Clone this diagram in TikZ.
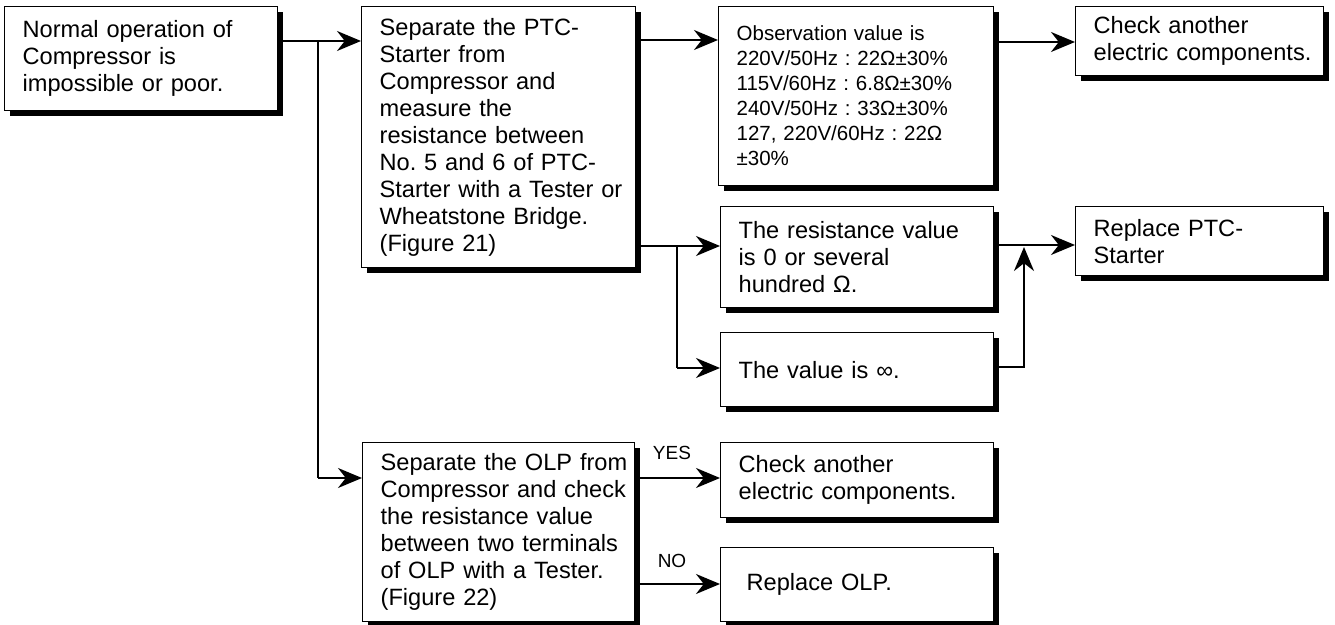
\documentclass[tikz,border=0pt]{standalone}
\usepackage{fontspec}
\setmainfont{Liberation Sans}
\usetikzlibrary{arrows.meta, shadows}

\begin{document}
\begin{tikzpicture}[x=0.5pt, y=-0.5pt,
  box/.style={draw, line width=0.65pt, fill=white, anchor=north west, align=left,
    inner xsep=9pt, inner ysep=0pt, font=\fontsize{11.8pt}{13.5pt}\selectfont\frenchspacing,
    execute at begin node={\rightskip=0pt plus 1fil minus 150pt\hyphenpenalty=10000},
    drop shadow={shadow xshift=2.5pt, shadow yshift=-2.5pt, fill=black, opacity=1}},
  small/.style={font=\fontsize{10.25pt}{12.5pt}\selectfont\frenchspacing},
  flow/.style={line width=1pt, -{Stealth[length=12pt, width=10pt]}},
  link/.style={line width=1pt},
  lbl/.style={font=\fontsize{9.5pt}{11pt}\selectfont, inner sep=0pt}]
\useasboundingbox (0,0) rectangle (1335,625);
% boxes
\node[box, text width=118.5pt, minimum height=52pt] (start) at (4,6)
  {Normal operation of\\Compressor is\\impossible or poor.};
\node[box, text width=119pt, minimum height=130.5pt] (ptc) at (361,6)
  {Separate the PTC-\\Starter from\\Compressor and\\measure the\\resistance between\\No. 5 and 6 of PTC-\\Starter with a Tester or\\Wheatstone Bridge.\\(Figure 21)};
\node[box, small, text width=119.5pt, minimum height=89.5pt] (obs) at (718,6)
  {Observation value is\\220V/50Hz : 22Ω±30\%\\115V/60Hz : 6.8Ω±30\%\\240V/50Hz : 33Ω±30\%\\127, 220V/60Hz : 22Ω\\±30\%};
\node[box, text width=106pt, minimum height=34.5pt] (chk1) at (1075,6)
  {Check another\\electric components.};
\node[box, text width=118.5pt, minimum height=50.5pt] (low) at (720,206)
  {The resistance value\\is 0 or several\\hundred Ω.};
\node[box, text width=118.5pt, minimum height=37pt] (inf) at (720,332)
  {The value is ∞.};
\node[box, text width=106pt, minimum height=34.5pt] (rep) at (1075,206)
  {Replace PTC-\\Starter};
\node[box, text width=118pt, minimum height=89.5pt] (olp) at (362,442)
  {Separate the OLP from\\Compressor and check\\the resistance value\\between two terminals\\of OLP with a Tester.\\(Figure 22)};
\node[box, text width=118.5pt, minimum height=37.5pt] (chk2) at (720,442)
  {Check another\\electric components.};
\node[box, text width=118.5pt, minimum height=37pt] (repolp) at (720,547)
  {\hspace*{4pt}Replace OLP.};
% branch points
\coordinate (a1) at (318,41);
\coordinate (a2) at (318,478);
\coordinate (b1) at (677,246);
\coordinate (b2) at (677,368);
\coordinate (c1) at (1024,247);
\coordinate (c2) at (1024,367);
% connectors
\draw[flow] (start.east |- a1) -- (ptc.west |- a1);
\draw[link] (a1) -- (a2);
\draw[flow] (a2) -- (olp.west |- a2);
\draw[flow] (ptc.east |- 0,40) -- (obs.west |- 0,40);
\draw[flow] (obs.east |- 0,42) -- (chk1.west |- 0,42);
\draw[flow] (ptc.east |- b1) -- (low.west |- b1);
\draw[link] (b1) -- (b2);
\draw[flow] (b2) -- (inf.west |- b2);
\draw[flow] (low.east |- 0,245) -- (rep.west |- 0,245);
\draw[flow] (inf.east |- c2) -- (c2) -- (c1);
\draw[flow] (olp.east |- a2) -- (chk2.west |- a2);
\draw[flow] (olp.east |- 0,584) -- (repolp.west |- 0,584);
\node[lbl] (yes) at (672,453) {YES};
\node[lbl] (no) at (672,561) {NO};
\end{tikzpicture}
\end{document}
